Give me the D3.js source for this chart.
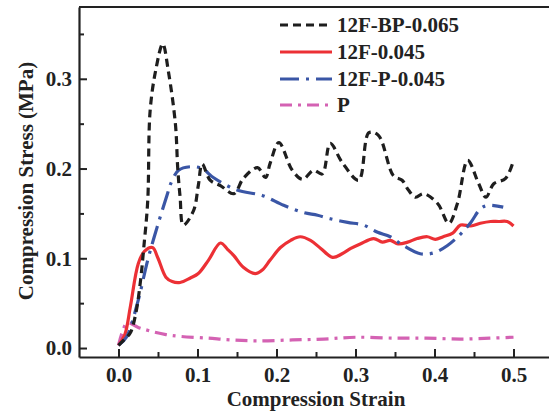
<!DOCTYPE html>
<html>
<head>
<meta charset="utf-8">
<script src="https://cdn.jsdelivr.net/npm/d3@7"></script>
<style>
    body { margin:0; background:#fff; }
    svg text { font-family:"Liberation Serif","Times New Roman",serif; font-weight:bold; fill:#222; }
</style>
</head>
<body>
<svg id="chart" width="549" height="415"></svg>
<script>

// ===============================
// DATA
// ===============================

const seriesNames = ["12F-BP-0.065", "12F-0.045", "12F-P-0.045", "P"];

const strainBP = [0, 0.007, 0.015, 0.022, 0.028, 0.032, 0.037, 0.040, 0.047, 0.056, 0.063, 0.072, 0.075, 0.078, 0.082, 0.095, 0.101, 0.106, 0.116, 0.129, 0.146, 0.158, 0.176, 0.186, 0.192, 0.203, 0.220, 0.233, 0.247, 0.258, 0.268, 0.283, 0.304, 0.317, 0.329, 0.348, 0.359, 0.367, 0.376, 0.386, 0.404, 0.418, 0.429, 0.442, 0.456, 0.465, 0.475, 0.490, 0.500];
const stressBP = [0.003, 0.009, 0.017, 0.039, 0.076, 0.112, 0.164, 0.264, 0.309, 0.339, 0.309, 0.250, 0.200, 0.168, 0.137, 0.153, 0.181, 0.205, 0.187, 0.181, 0.172, 0.189, 0.201, 0.190, 0.206, 0.229, 0.198, 0.188, 0.198, 0.194, 0.228, 0.207, 0.187, 0.240, 0.237, 0.192, 0.187, 0.176, 0.168, 0.172, 0.161, 0.139, 0.161, 0.209, 0.183, 0.168, 0.183, 0.189, 0.209];

const strainF = [0, 0.008, 0.015, 0.025, 0.033, 0.043, 0.050, 0.060, 0.068, 0.078, 0.091, 0.101, 0.114, 0.129, 0.138, 0.146, 0.158, 0.173, 0.182, 0.192, 0.205, 0.218, 0.230, 0.243, 0.256, 0.271, 0.283, 0.294, 0.306, 0.323, 0.334, 0.344, 0.354, 0.366, 0.378, 0.391, 0.401, 0.411, 0.423, 0.433, 0.446, 0.458, 0.471, 0.481, 0.492, 0.500];
const stressF = [0.003, 0.015, 0.046, 0.094, 0.108, 0.112, 0.100, 0.079, 0.074, 0.073, 0.078, 0.083, 0.098, 0.117, 0.110, 0.103, 0.090, 0.083, 0.087, 0.098, 0.112, 0.120, 0.124, 0.120, 0.111, 0.101, 0.105, 0.111, 0.116, 0.122, 0.118, 0.120, 0.116, 0.118, 0.122, 0.124, 0.121, 0.124, 0.128, 0.137, 0.136, 0.139, 0.141, 0.141, 0.141, 0.136];

const strainFP = [0, 0.010, 0.024, 0.037, 0.049, 0.062, 0.066, 0.076, 0.091, 0.106, 0.120, 0.150, 0.182, 0.209, 0.234, 0.252, 0.268, 0.290, 0.310, 0.328, 0.344, 0.361, 0.382, 0.399, 0.416, 0.433, 0.446, 0.458, 0.467, 0.487];
const stressFP = [0.003, 0.012, 0.050, 0.098, 0.135, 0.172, 0.183, 0.198, 0.202, 0.200, 0.190, 0.176, 0.170, 0.159, 0.151, 0.148, 0.144, 0.140, 0.137, 0.129, 0.124, 0.114, 0.105, 0.106, 0.114, 0.127, 0.140, 0.155, 0.159, 0.157];

const strainP = [0, 0.005, 0.011, 0.025, 0.040, 0.060, 0.078, 0.113, 0.142, 0.176, 0.220, 0.260, 0.300, 0.350, 0.390, 0.433, 0.470, 0.500];
const stressP = [0.003, 0.018, 0.028, 0.023, 0.019, 0.015, 0.013, 0.011, 0.009, 0.008, 0.009, 0.010, 0.012, 0.011, 0.011, 0.010, 0.011, 0.012];

const xTicks = [0, 0.1, 0.2, 0.3, 0.4, 0.5];
const yTicks = [0, 0.1, 0.2, 0.3];

// ===============================
// SETUP
// ===============================

const svg = d3.select("#chart");

const plotLeft = 79, plotRight = 553, plotTop = 7, plotBottom = 357;

const x = d3.scaleLinear().domain([-0.05, 0.55]).range([plotLeft, plotRight]);
const y = d3.scaleLinear().domain([-0.01, 0.38]).range([plotBottom, plotTop]);

const series = [
    { name: seriesNames[0], xs: strainBP, ys: stressBP, color: "#1e1e1e", dash: "8,5",        width: 3.2 },
    { name: seriesNames[1], xs: strainF,  ys: stressF,  color: "#ec3035", dash: null,         width: 3.2 },
    { name: seriesNames[2], xs: strainFP, ys: stressFP, color: "#3a56a6", dash: "19,7,3,7",   width: 3.2 },
    { name: seriesNames[3], xs: strainP,  ys: stressP,  color: "#d462b3", dash: "12,6,3,6",   width: 3.2 }
];

svg.append("clipPath")
    .attr("id", "plotClip")
    .append("rect")
    .attr("x", plotLeft)
    .attr("y", plotTop)
    .attr("width", plotRight - plotLeft)
    .attr("height", plotBottom - plotTop);

// ===============================
// CURVES
// ===============================

const line = d3.line()
    .x(d => x(d[0]))
    .y(d => y(d[1]))
    .curve(d3.curveCatmullRom.alpha(0.5));

const drawOrder = [3, 1, 2, 0];

drawOrder.forEach(i => {

    const s = series[i];

    const pts = s.xs.map((v, k) => [v, s.ys[k]]);

    svg.append("path")
        .datum(pts)
        .attr("clip-path", "url(#plotClip)")
        .attr("fill", "none")
        .attr("stroke", s.color)
        .attr("stroke-width", s.width)
        .attr("stroke-dasharray", s.dash)
        .attr("stroke-linejoin", "round")
        .attr("d", line);

});

// ===============================
// AXES
// ===============================

svg.append("g")
    .attr("transform", `translate(0,${plotBottom})`)
    .call(d3.axisBottom(x).tickValues(xTicks).tickSizeInner(-8).tickSizeOuter(0).tickPadding(10).tickFormat(d3.format(".1f")));

svg.append("g")
    .attr("transform", `translate(0,${plotBottom})`)
    .call(d3.axisBottom(x).tickValues([0.05, 0.15, 0.25, 0.35, 0.45]).tickSizeInner(-5).tickSizeOuter(0).tickFormat(""))
    .select(".domain").remove();

svg.append("g")
    .attr("transform", `translate(${plotLeft},0)`)
    .call(d3.axisLeft(y).tickValues(yTicks).tickSizeInner(-8).tickSizeOuter(0).tickPadding(7).tickFormat(d3.format(".1f")));

svg.append("g")
    .attr("transform", `translate(${plotLeft},0)`)
    .call(d3.axisLeft(y).tickValues([0.05, 0.15, 0.25, 0.35]).tickSizeInner(-5).tickSizeOuter(0).tickFormat(""))
    .select(".domain").remove();

svg.selectAll(".domain").attr("stroke", "#222").attr("stroke-width", 2.2);
svg.selectAll(".tick line").attr("stroke", "#222").attr("stroke-width", 2);
svg.selectAll(".tick text").attr("font-size", 21).attr("font-family", null).attr("fill", "#222");

// top border
svg.append("line")
    .attr("x1", plotLeft)
    .attr("x2", plotRight)
    .attr("y1", plotTop)
    .attr("y2", plotTop)
    .attr("stroke", "#222")
    .attr("stroke-width", 2.2);

// ===============================
// TITLES
// ===============================

svg.append("text")
    .attr("x", 316)
    .attr("y", 406)
    .attr("text-anchor", "middle")
    .attr("font-size", 21)
    .text("Compression Strain");

svg.append("text")
    .attr("transform", "translate(33,181) rotate(-90)")
    .attr("text-anchor", "middle")
    .attr("font-size", 21)
    .text("Compression Stress (MPa)");

// ===============================
// LEGEND
// ===============================

const legendY = [25, 52, 79, 105];

series.forEach((s, i) => {

    svg.append("line")
        .attr("x1", 280)
        .attr("x2", 332)
        .attr("y1", legendY[i])
        .attr("y2", legendY[i])
        .attr("stroke", s.color)
        .attr("stroke-width", s.width)
        .attr("stroke-dasharray", s.dash);

    svg.append("text")
        .attr("x", 337)
        .attr("y", legendY[i])
        .attr("dy", "0.35em")
        .attr("font-size", 21)
        .text(s.name);

});

</script>
</body>
</html>
